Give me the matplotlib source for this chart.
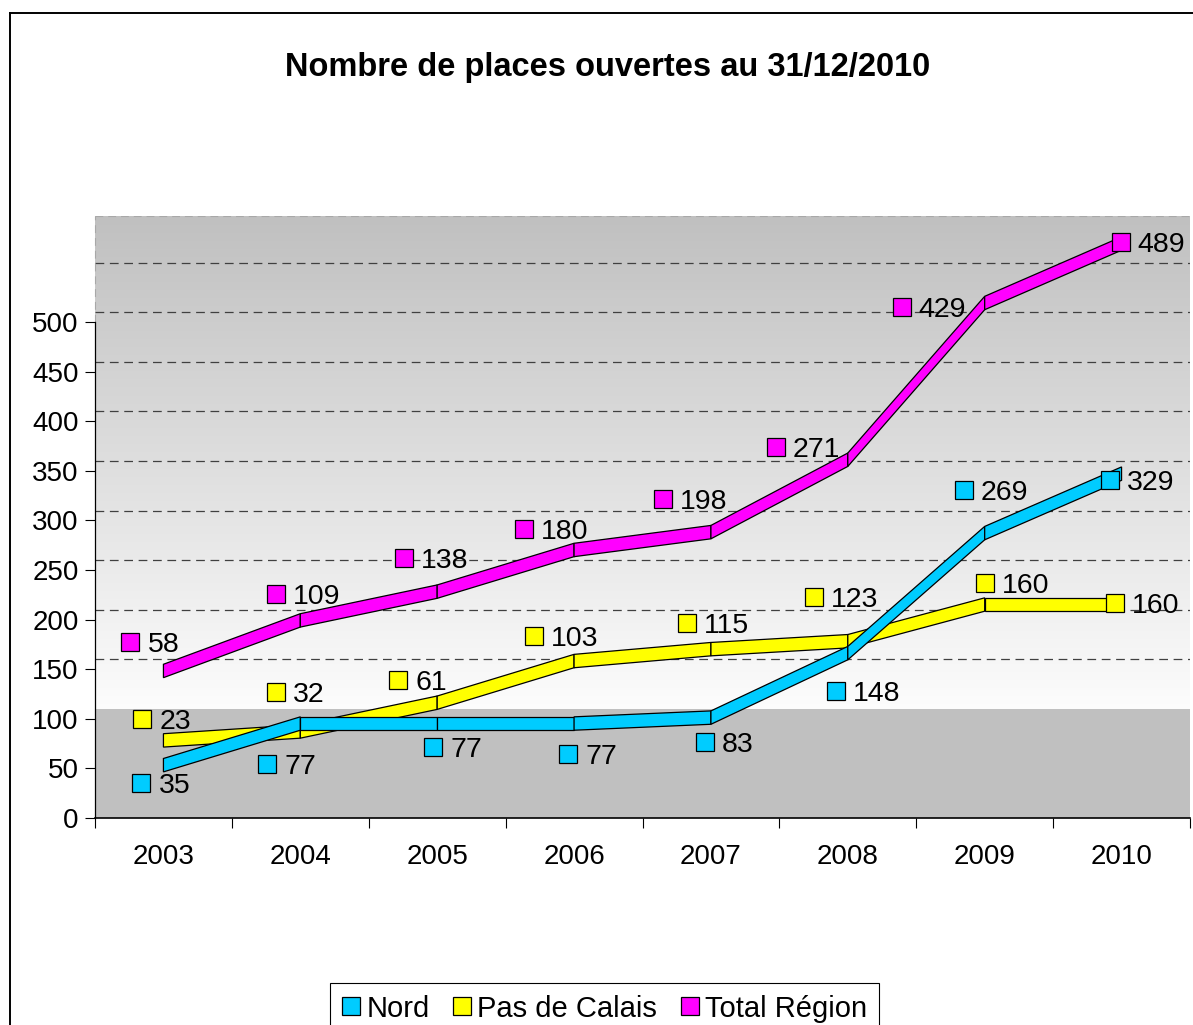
import matplotlib
matplotlib.use("Agg")
import matplotlib.pyplot as plt
import numpy as np
from matplotlib.patches import Polygon
from matplotlib.transforms import offset_copy
from matplotlib.lines import Line2D

plt.rcParams['font.family'] = ['Liberation Sans', 'DejaVu Sans']

# ---------------- data ----------------
years = ['2003', '2004', '2005', '2006', '2007', '2008', '2009', '2010']
nord = [35, 77, 77, 77, 83, 148, 269, 329]
pas_de_calais = [23, 32, 61, 103, 115, 123, 160, 160]
total_region = [58, 109, 138, 180, 198, 271, 429, 489]
series_names = ['Nord', 'Pas de Calais', 'Total Région']
yticks = list(range(0, 501, 50))
title = 'Nombre de places ouvertes au 31/12/2010'

# ---------------- styles / layout ----------------
colors = ['#00ccff', '#ffff00', '#ff00ff']
depth_offsets = [25, 62, 97]        # pseudo-3D depth row of each series (axis units)
ribbon_thickness = 13.5
wall_base = 110                      # where the back wall starts (floor depth)
y_top = 607
# data-label offsets (pixels, right / down) relative to each ribbon vertex
lbl_dx = [[-22, -33, -4, -6, -6, -12, -21, -12],
          [-21, -24, -39, -40, -24, -34, 0, -7],
          [-33, -24, -33, -50, -48, -72, -83, -1]]
lbl_dy = [[25, 47, 30, 37, 31, 45, -36, 13],
          [-15, -33, -16, -18, -19, -38, -15, 5],
          [-22, -20, -27, -14, -26, -6, 11, 5]]

W, H = 1193, 1025
fig = plt.figure(figsize=(W / 100, H / 100), dpi=100)
ax = fig.add_axes([95 / W, 1 - 818 / H, 1095 / W, 602 / H])
n = len(years)
ax.set_xlim(-0.5, n - 0.5)
ax.set_ylim(0, y_top)

# back wall gradient
t = np.linspace(0, 1, 256)
g = 0.99 - t * (0.99 - 0.753)
grad = np.repeat(g[:, None], 3, axis=1)[:, None, :]
ax.imshow(grad, extent=[-0.5, n - 0.5, wall_base, y_top], origin='lower',
          aspect='auto', zorder=0, interpolation='bilinear')
# floor
ax.axhspan(0, wall_base, color='#c0c0c0', zorder=0, lw=0)

# gridlines on back wall
for k in range(1, 10):
    ax.axhline(wall_base + 50 * k, color='#404040', lw=0.9, ls=(0, (7, 4.5)), zorder=1)
ax.axhline(y_top - 0.4, color='#a8a8a8', lw=0.8, ls=(0, (7, 4.5)), zorder=1)
ax.plot([-0.5, -0.5], [500, y_top], color='#a8a8a8', lw=0.8, ls=(0, (7, 4.5)),
        zorder=1, clip_on=False)

# spines & ticks
for s in ['top', 'right']:
    ax.spines[s].set_visible(False)
ax.spines['left'].set_bounds(0, 500)
ax.spines['left'].set_linewidth(0.9)
ax.spines['bottom'].set_linewidth(1.2)
ax.set_yticks(yticks)
ax.set_yticklabels([str(v) for v in yticks])
ax.tick_params(axis='y', length=7.2, width=0.8, pad=4.5, labelsize=20, direction='out')
ax.set_xticks(range(n))
ax.set_xticklabels(years)
ax.set_xticks(np.arange(-0.5, n, 1), minor=True)
ax.tick_params(axis='x', which='major', length=0, pad=19, labelsize=20)
ax.tick_params(axis='x', which='minor', length=7.2, width=0.8, direction='out')

all_series = [nord, pas_de_calais, total_region]

# ribbons (back to front)
for k in [2, 1, 0]:
    vals = all_series[k]
    off = depth_offsets[k]
    for i in range(n - 1):
        top0, top1 = vals[i] + off, vals[i + 1] + off
        poly = Polygon([(i, top0), (i + 1, top1),
                        (i + 1, top1 - ribbon_thickness), (i, top0 - ribbon_thickness)],
                       closed=True, fc=colors[k], ec='black', lw=0.9, zorder=3 + (2 - k))
        ax.add_patch(poly)

# data labels with key markers
for k in range(3):
    vals = all_series[k]
    off = depth_offsets[k]
    for i in range(n):
        dx, dy = lbl_dx[k][i], lbl_dy[k][i]
        tr = offset_copy(ax.transData, fig=fig, x=dx, y=-dy, units='dots')
        ax.plot(i, vals[i] + off, marker='s', ms=12.6, mfc=colors[k], mec='black',
                mew=0.9, transform=tr, zorder=10, clip_on=False, ls='none')
        tt = offset_copy(ax.transData, fig=fig, x=dx + 17, y=-(dy + 10), units='dots')
        ax.text(i, vals[i] + off, str(vals[i]), transform=tt, fontsize=20.5,
                ha='left', va='baseline', zorder=11)

# title
fig.text(608 / W, 1 - 76 / H, title, ha='center', va='baseline',
         fontsize=23.5, fontweight='bold')

# legend
handles = [Line2D([], [], ls='none', marker='s', ms=12.5, mfc=c, mec='black', mew=0.9)
           for c in colors]
leg = fig.legend(handles, series_names, loc='upper left',
                 bbox_to_anchor=(330 / W, 1 - 983 / H), ncol=3, frameon=True,
                 fancybox=False, edgecolor='black', fontsize=21, handlelength=0.62,
                 handletextpad=0.22, columnspacing=0.8, borderpad=0.4,
                 borderaxespad=0, framealpha=1)
leg.get_frame().set_linewidth(0.8)

# outer chart frame (left and top edges visible)
fig.add_artist(Line2D([9.5 / W, 9.5 / W], [0, 1 - 13 / H], color='black', lw=1.4))
fig.add_artist(Line2D([9.5 / W, 1], [1 - 13 / H, 1 - 13 / H], color='black', lw=1.4))

fig.savefig('out.png', dpi=100)
